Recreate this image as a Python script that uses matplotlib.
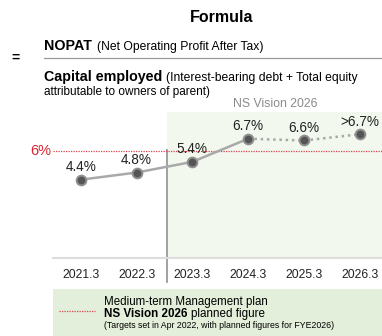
import matplotlib.pyplot as plt
from matplotlib.patches import Rectangle
from matplotlib.lines import Line2D

plt.rcParams['font.family'] = ['Liberation Sans', 'DejaVu Sans']

# ROCE by fiscal year end
years = ["2021.3", "2022.3", "2023.3", "2024.3", "2025.3", "2026.3"]
roce = [4.4, 4.8, 5.4, 6.7, 6.6, 6.95]
labels = ["4.4%", "4.8%", "5.4%", "6.7%", "6.6%", ">6.7%"]
n_actual = 4          # first four are results, the rest are plan
target = 6.0

W, H = 382, 336
fig = plt.figure(figsize=(W / 100, H / 100), dpi=100)

def fx(px):
    return px / W

def fy(py):
    return 1 - py / H

# full-figure layer for the formula header and the legend box
bg = fig.add_axes([0, 0, 1, 1])
bg.set_xlim(0, 1)
bg.set_ylim(0, 1)
bg.axis('off')

bg.text(fx(222), fy(18), "Formula", ha='center', va='center',
        fontsize=11.5, fontweight='bold')
bg.text(fx(15), fy(58), "=", ha='center', va='center', fontsize=10, fontweight='bold')
bg.add_line(Line2D([fx(44), 1], [fy(58), fy(58)], color='#999999', lw=0.9))

t1 = bg.text(fx(44), fy(50), "NOPAT", ha='left', va='baseline',
             fontsize=10.3, fontweight='bold')
bg.annotate("(Net Operating Profit After Tax)", xy=(1, 0), xycoords=t1,
            xytext=(4, 0), textcoords='offset points', fontsize=8.7, va='bottom')
t2 = bg.text(fx(44), fy(81), "Capital employed", ha='left', va='baseline',
             fontsize=10.3, fontweight='bold')
bg.annotate("(Interest-bearing debt + Total equity", xy=(1, 0), xycoords=t2,
            xytext=(3, 0), textcoords='offset points', fontsize=8.7, va='bottom')
bg.text(fx(44), fy(92), "attributable to owners of parent)", ha='left', va='center',
        fontsize=8.5)
bg.text(fx(275), fy(104), "NS Vision 2026", ha='center', va='center',
        fontsize=8.8, color='#8a8a8a')

# legend box
bg.add_patch(Rectangle((fx(53), 0), 1 - fx(53), fy(289), color='#e3efda', lw=0))
bg.add_line(Line2D([fx(59), fx(95)], [fy(311), fy(311)], color='#d9434b',
                   lw=0.9, ls=(0, (1, 1))))
bg.text(fx(104), fy(302), "Medium-term Management plan", ha='left', va='center',
        fontsize=8.3)
t3 = bg.text(fx(104), fy(317), "NS Vision 2026", ha='left', va='baseline',
             fontsize=8.4, fontweight='bold')
bg.annotate("planned figure", xy=(1, 0), xycoords=t3, xytext=(2.5, 0),
            textcoords='offset points', fontsize=8.4, va='bottom')
bg.text(fx(104), fy(325), "(Targets set in Apr 2022, with planned figures for FYE2026)",
        ha='left', va='center', fontsize=6.3)

# chart
ax = fig.add_axes([fx(53), fy(258), 1 - fx(53), fy(112) - fy(258)])
ax.patch.set_alpha(0)
ax.set_xlim(-0.5, 5.4)
ax.set_ylim(0, 8.2)
x = list(range(len(years)))

ax.axvspan(1.54, 5.4, color='#f2f8ee', lw=0, zorder=0)
ax.axvline(1.54, ymin=-0.165, ymax=0.74, color='#999999', lw=1.3, clip_on=False, zorder=1)
ax.axhline(target, color='#d9434b', lw=0.9, ls=(0, (1, 1)), zorder=2)
ax.text(-0.54, target, "6%", ha='right', va='center', color='#d9232e',
        fontsize=10.5, clip_on=False)

ax.plot(x[:n_actual], roce[:n_actual], color='#a9a9a9', lw=1.8, zorder=3)
ax.plot(x[n_actual - 1:], roce[n_actual - 1:], color='#a9a9a9', lw=1.8,
        ls=(0, (1, 1.5)), zorder=3)
ax.plot(x, roce, ls='none', marker='o', ms=7, mfc='#555555', mec='#8f8f8f',
        mew=1.4, zorder=4)
for xi, yi, lab in zip(x, roce, labels):
    ax.annotate(lab, (xi, yi), xytext=(0, 4), textcoords='offset points',
                ha='center', va='bottom', fontsize=9.8, color='#222222', zorder=5)

ax.set_xticks(x)
ax.set_xticklabels(years, fontsize=8.8, color='#222222')
ax.tick_params(axis='x', length=0, pad=8)
ax.set_yticks([])
for s in ['top', 'right', 'left']:
    ax.spines[s].set_visible(False)
ax.spines['bottom'].set_color('#dddddd')
ax.spines['bottom'].set_linewidth(1.5)

fig.savefig('out.png', dpi=100)
